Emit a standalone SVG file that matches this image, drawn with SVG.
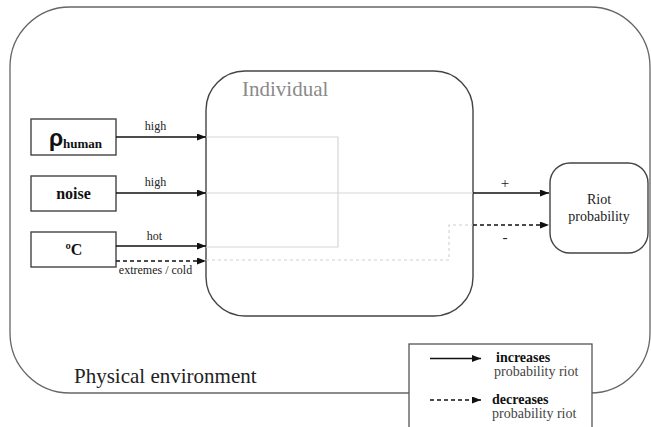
<svg xmlns="http://www.w3.org/2000/svg" width="651" height="427" viewBox="0 0 651 427">
<style>
.box{fill:#fff;stroke:#444;stroke-width:1.4}
.outer{fill:#fff;stroke:#666;stroke-width:1.3}
.arr{fill:none;stroke:#111;stroke-width:1.3}
.dash{stroke-dasharray:4 3}
.gray{fill:none;stroke:#d6d6d6;stroke-width:1.2}
.gdash{fill:none;stroke:#d0d0d0;stroke-width:1.1;stroke-dasharray:3 3}
</style>
<defs>
<marker id="ah" markerUnits="userSpaceOnUse" markerWidth="10" markerHeight="8" refX="9" refY="3.5" orient="auto">
<path d="M0,0 L9,3.5 L0,7 z" fill="#111"/>
</marker>
</defs>
<g font-family="Liberation Serif, DejaVu Serif, serif">
<g id="env">
<rect class="outer" x="10" y="7" width="640" height="386" rx="60" ry="60"/>
<text x="74" y="383" font-size="21" fill="#222">Physical environment</text>
</g>
<g id="individual">
<rect class="box" x="206" y="71" width="267" height="245" rx="39" ry="39"/>
<text x="242" y="96" font-size="21" fill="#8a8a8a">Individual</text>
</g>
<g id="internal">
<path class="gray" d="M206,137 H338 V247 H206"/>
<path class="gray" d="M206,193 H473"/>
<path class="gdash" d="M206,260 H449 V225 H473"/>
</g>
<g id="rho">
<rect class="box" x="31" y="119" width="85" height="36"/>
<text x="49" y="146" font-family="Liberation Sans, Arial, sans-serif" font-weight="bold" font-size="23" fill="#111">ρ</text>
<text x="63" y="148" font-weight="bold" font-size="13" fill="#111">human</text>
</g>
<g id="noise">
<rect class="box" x="31" y="176" width="85" height="35"/>
<text x="73.5" y="199" font-weight="bold" font-size="16" text-anchor="middle" fill="#111">noise</text>
</g>
<g id="temp">
<rect class="box" x="31" y="232" width="85" height="35"/>
<text x="74" y="255" font-weight="bold" font-size="16" text-anchor="middle" fill="#111">ºC</text>
</g>
<g id="riot">
<rect class="box" x="550" y="163" width="98" height="90" rx="20" ry="20"/>
<text x="599" y="204" font-size="14" text-anchor="middle" fill="#222">Riot</text>
<text x="599" y="221" font-size="14" text-anchor="middle" fill="#222">probability</text>
</g>
<g id="connectors" font-size="12" fill="#222">
<path class="arr" d="M116,137 H206" marker-end="url(#ah)"/>
<text x="155.5" y="130" text-anchor="middle">high</text>
<path class="arr" d="M116,193 H206" marker-end="url(#ah)"/>
<text x="155.5" y="186" text-anchor="middle">high</text>
<path class="arr" d="M116,246 H206" marker-end="url(#ah)"/>
<text x="154.5" y="240" text-anchor="middle">hot</text>
<path class="arr dash" d="M116,261 H206" marker-end="url(#ah)"/>
<text x="155.5" y="274" text-anchor="middle">extremes / cold</text>
<path class="arr" d="M473,193 H549" marker-end="url(#ah)"/>
<text x="505" y="188" font-size="15" text-anchor="middle">+</text>
<path class="arr dash" d="M473,225 H549" marker-end="url(#ah)"/>
<text x="505" y="242" font-size="15" text-anchor="middle">-</text>
</g>
<g id="legend">
<rect x="409" y="344" width="183" height="100" fill="#fff" stroke="#555" stroke-width="1.3"/>
<path class="arr" d="M430,358.5 H481" marker-end="url(#ah)"/>
<text x="496" y="362" font-weight="bold" font-size="14" fill="#111">increases</text>
<text x="494" y="376" font-size="14" fill="#444">probability riot</text>
<path class="arr dash" d="M430,400 H481" marker-end="url(#ah)"/>
<text x="492" y="404" font-weight="bold" font-size="14" fill="#111">decreases</text>
<text x="492" y="418" font-size="14" fill="#444">probability riot</text>
</g>
</g>
</svg>
